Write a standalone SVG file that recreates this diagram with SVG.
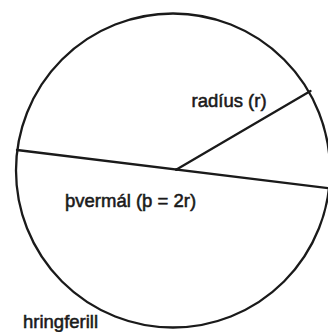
<svg xmlns="http://www.w3.org/2000/svg" width="328" height="332" viewBox="0 0 328 332">
<style>
.ln{fill:none;stroke:#1a1a1a;stroke-width:2.3;stroke-linecap:round}
.lb{font-family:"Liberation Sans",Arial,sans-serif;font-size:18.5px;fill:#1a1a1a;stroke:#1a1a1a;stroke-width:0.55}
</style>
<rect width="328" height="332" fill="#fff"/>
<g id="circle">
<circle class="ln" cx="173" cy="170.5" r="157"/>
</g>
<g id="connectors">
<line class="ln" x1="17" y1="150" x2="331" y2="188.5"/>
<line class="ln" x1="176.5" y1="169.5" x2="310.5" y2="91"/>
<circle cx="176.5" cy="169.5" r="1.6" fill="#1a1a1a"/>
</g>
<g id="label-radius"><text class="lb" x="191.5" y="107.3">radíus (r)</text></g>
<g id="label-thvermal"><text class="lb" x="65" y="206.7">þvermál (þ = 2r)</text></g>
<g id="label-hringferill"><text class="lb" x="23" y="327.5">hringferill</text></g>
</svg>
